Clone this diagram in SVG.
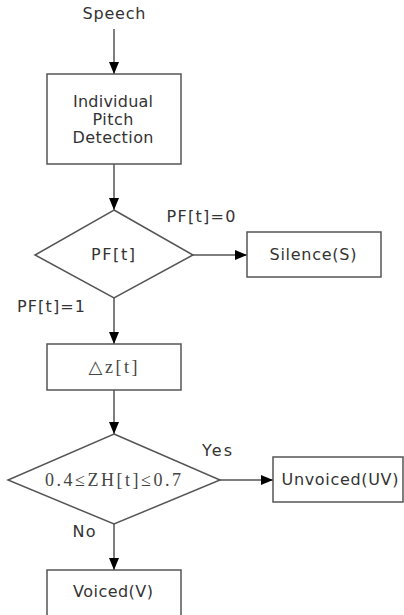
<svg xmlns="http://www.w3.org/2000/svg" width="404" height="615" viewBox="0 0 404 615">
<defs>
<style>
.box{fill:#fff;stroke:#555;stroke-width:1.5}
.ln{fill:none;stroke:#555;stroke-width:1.5}
.t{font-family:"DejaVu Sans",sans-serif;font-size:16px;fill:#333;text-anchor:middle}
.s{font-family:"Liberation Serif","DejaVu Serif",serif;font-size:18px;fill:#444;text-anchor:middle}
</style>
<marker id="ah" viewBox="0 0 12 10" refX="12" refY="5" markerWidth="12" markerHeight="10" markerUnits="userSpaceOnUse" orient="auto">
<path d="M0,0 L12,5 L0,10 Z" fill="#000"/>
</marker>
</defs>
<rect width="404" height="615" fill="#fff"/>
<g id="connectors">
<line class="ln" x1="114" y1="29" x2="114" y2="74" marker-end="url(#ah)"/>
<line class="ln" x1="114" y1="164" x2="114" y2="210" marker-end="url(#ah)"/>
<line class="ln" x1="193" y1="255" x2="247" y2="255" marker-end="url(#ah)"/>
<line class="ln" x1="114" y1="298" x2="114" y2="344" marker-end="url(#ah)"/>
<line class="ln" x1="114" y1="390" x2="114" y2="434" marker-end="url(#ah)"/>
<line class="ln" x1="220" y1="480" x2="273" y2="480" marker-end="url(#ah)"/>
<line class="ln" x1="114" y1="524" x2="114" y2="570" marker-end="url(#ah)"/>
<text class="t" x="201" y="222" textLength="69">PF[t]=0</text>
<text class="t" x="51" y="312" textLength="68">PF[t]=1</text>
<text class="t" x="217" y="456" textLength="30">Yes</text>
<text class="t" x="84" y="537" textLength="23">No</text>
</g>
<g id="speech">
<text class="t" x="114" y="19" textLength="63">Speech</text>
</g>
<g id="pitch-detection">
<rect class="box" x="47" y="74" width="134" height="90"/>
<text class="t" x="113" y="107" textLength="80">Individual</text>
<text class="t" x="113" y="125" textLength="41">Pitch</text>
<text class="t" x="113" y="143" textLength="81">Detection</text>
</g>
<g id="pf-decision">
<polygon class="box" points="114,210 193,255 114,298 35,255"/>
<text class="t" x="113" y="260" textLength="44">PF[t]</text>
</g>
<g id="silence">
<rect class="box" x="247" y="232" width="134" height="45"/>
<text class="t" x="313" y="260" textLength="87">Silence(S)</text>
</g>
<g id="delta-z">
<rect class="box" x="47" y="344" width="134" height="46"/>
<text class="s" x="113" y="373" textLength="49">△z[t]</text>
</g>
<g id="zh-decision">
<polygon class="box" points="114,434 220,480 114,524 8,480"/>
<text class="s" x="113" y="486" textLength="136">0.4≤ZH[t]≤0.7</text>
</g>
<g id="unvoiced">
<rect class="box" x="273" y="457" width="130" height="45"/>
<text class="t" x="340" y="485" textLength="117">Unvoiced(UV)</text>
</g>
<g id="voiced">
<rect class="box" x="47" y="570" width="134" height="50"/>
<text class="t" x="113" y="597" textLength="80">Voiced(V)</text>
</g>
</svg>
